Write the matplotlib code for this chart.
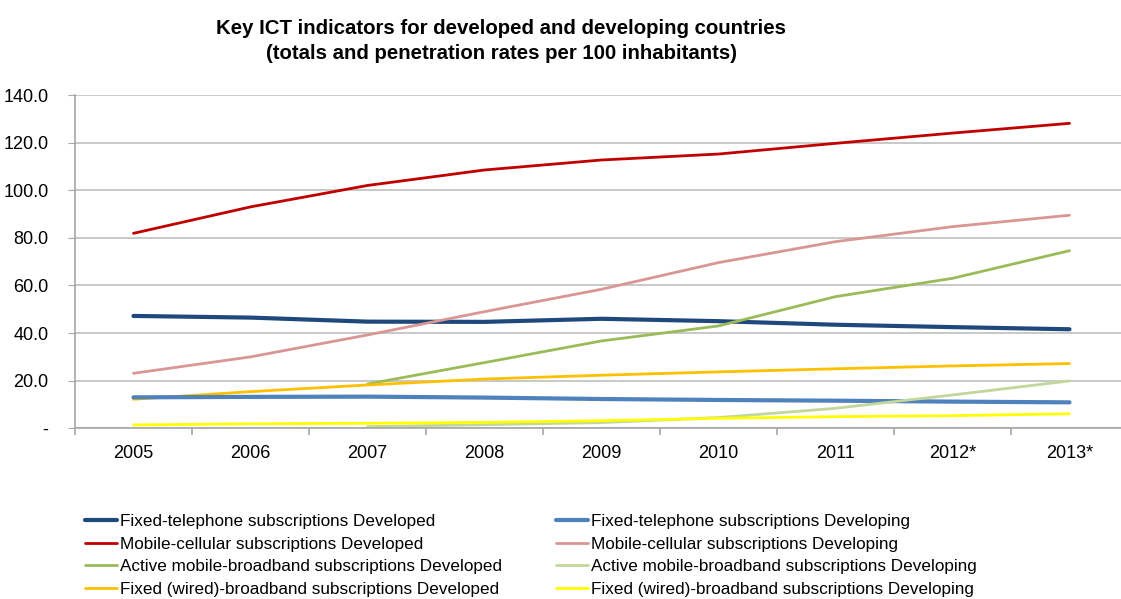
import matplotlib
import matplotlib.pyplot as plt
from matplotlib.ticker import FuncFormatter

matplotlib.use("Agg")

plt.rcParams["font.family"] = ["Liberation Sans Narrow", "Liberation Sans", "DejaVu Sans"]

years = ["2005", "2006", "2007", "2008", "2009", "2010", "2011", "2012*", "2013*"]

fixed_tel_developed = [47.2, 46.5, 44.8, 44.7, 46.0, 45.0, 43.5, 42.5, 41.6]
fixed_tel_developing = [13.0, 13.2, 13.3, 12.9, 12.3, 11.9, 11.6, 11.2, 10.9]
mobile_developed = [81.9, 93.0, 102.0, 108.5, 112.7, 115.2, 119.7, 124.0, 128.1]
mobile_developing = [23.1, 30.0, 39.2, 49.0, 58.4, 69.6, 78.4, 84.7, 89.5]
# mobile broadband series start in 2007
mobile_bb_developed = [None, None, 18.6, 27.6, 36.7, 43.0, 55.3, 63.0, 74.6]
mobile_bb_developing = [None, None, 0.7, 1.5, 2.4, 4.5, 8.4, 14.0, 19.9]
fixed_bb_developed = [12.2, 15.4, 18.2, 20.7, 22.3, 23.7, 25.0, 26.2, 27.2]
fixed_bb_developing = [1.4, 1.9, 2.1, 2.5, 3.2, 4.2, 4.9, 5.3, 6.1]

series = [
    ("Fixed-telephone subscriptions Developed", fixed_tel_developed, "#1F497D", 3.0),
    ("Mobile-cellular subscriptions Developed", mobile_developed, "#C00000", 2.0),
    ("Active mobile-broadband subscriptions Developed", mobile_bb_developed, "#9BBB59", 2.0),
    ("Fixed (wired)-broadband subscriptions Developed", fixed_bb_developed, "#FFC000", 2.0),
    ("Fixed-telephone subscriptions Developing", fixed_tel_developing, "#4F81BD", 3.0),
    ("Mobile-cellular subscriptions Developing", mobile_developing, "#D99694", 2.0),
    ("Active mobile-broadband subscriptions Developing", mobile_bb_developing, "#C3D69B", 2.0),
    ("Fixed (wired)-broadband subscriptions Developing", fixed_bb_developing, "#FFFF00", 2.0),
]

fig = plt.figure(figsize=(11.21, 5.99), dpi=100, facecolor="white")
ax = fig.add_axes([75 / 1121, 1 - 428.3 / 599, 1053 / 1121, 333.3 / 599])

x = list(range(len(years)))
handles = []
for label, values, color, lw in series:
    pts = [(i, v) for i, v in zip(x, values) if v is not None]
    line, = ax.plot([p[0] for p in pts], [p[1] for p in pts], color=color,
                    linewidth=lw, label=label, solid_capstyle="round")
    handles.append(line)

ax.set_xlim(-0.5, len(years) - 0.5)
ax.set_ylim(0, 140)
ax.set_yticks(range(0, 141, 20))
ax.yaxis.set_major_formatter(FuncFormatter(lambda v, _: "-" if v == 0 else f"{v:.1f}"))
ax.set_xticks(x)
ax.set_xticklabels(years)
ax.set_xticks([i - 0.5 for i in range(len(years) + 1)], minor=True)

ax.grid(axis="y", color="#BFBFBF", linewidth=1.2)
ax.set_axisbelow(True)
for side in ("top", "right"):
    ax.spines[side].set_visible(False)
for side in ("left", "bottom"):
    ax.spines[side].set_color("#A6A6A6")
    ax.spines[side].set_linewidth(1.2)

ax.tick_params(axis="y", length=5, color="#A6A6A6", labelsize=13, pad=14)
ax.tick_params(axis="x", which="major", length=0, labelsize=13, pad=12)
ax.tick_params(axis="x", which="minor", length=5, color="#A6A6A6", width=1.2)

fig.text(501 / 1121, 1 - 41 / 599,
         "Key ICT indicators for developed and developing countries\n"
         "(totals and penetration rates per 100 inhabitants)",
         ha="center", va="center", fontsize=14.7, fontweight="bold", linespacing=1.45)

fig.legend(handles=handles, loc="upper left", bbox_to_anchor=(85 / 1121, 1 - 514 / 599),
           ncol=2, frameon=False, fontsize=12.3, handlelength=1.87, handletextpad=0.18,
           columnspacing=3.16, labelspacing=0.44, borderaxespad=0, borderpad=0)

fig.savefig("out.png", dpi=100)
